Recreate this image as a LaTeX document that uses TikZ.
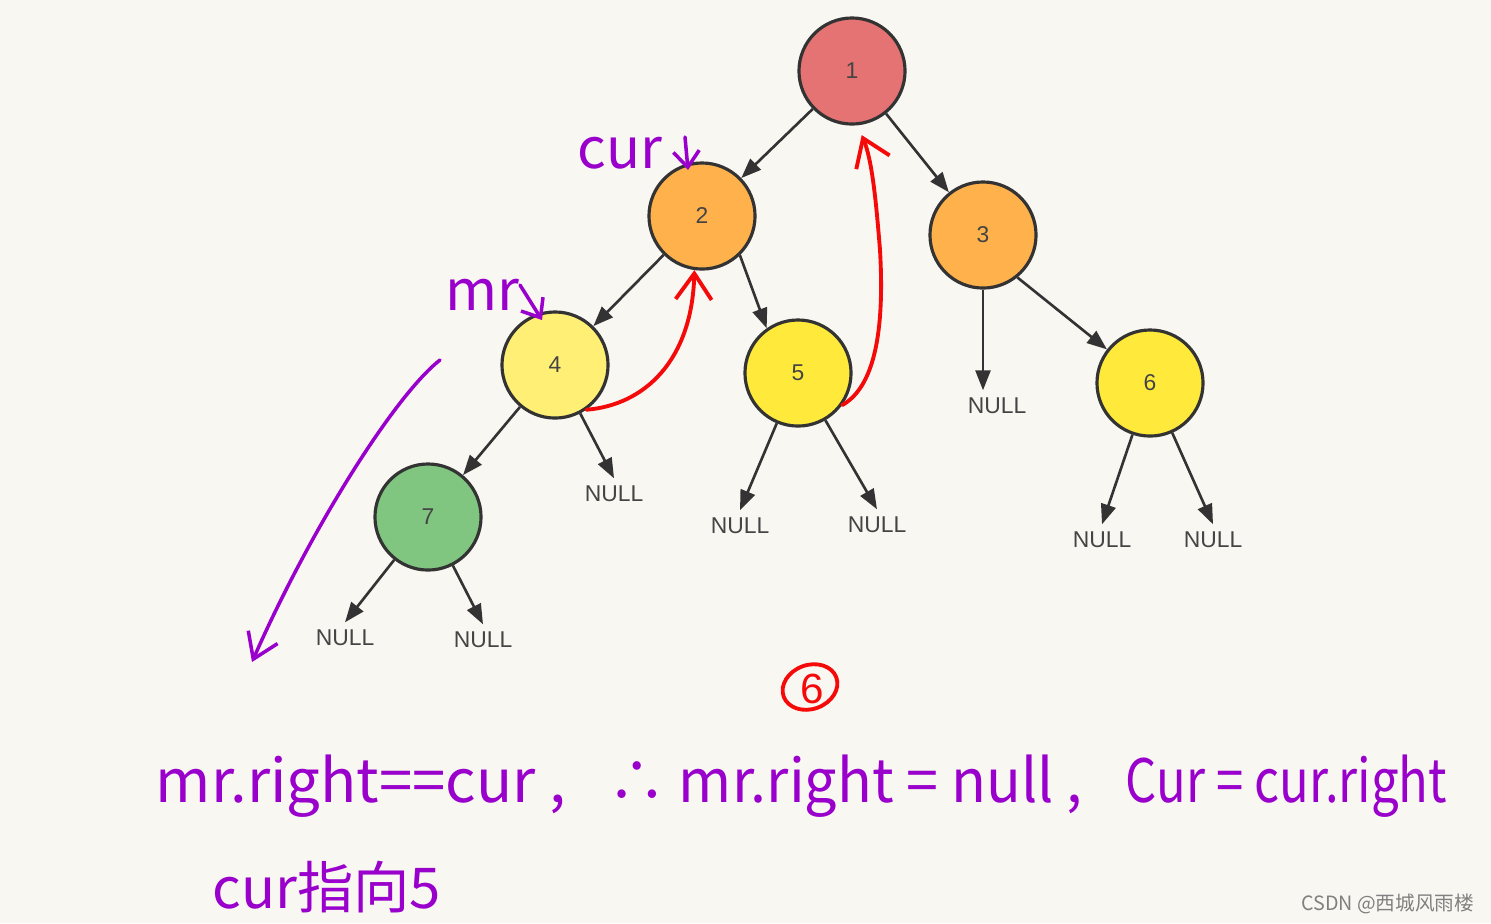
\documentclass[tikz,border=0pt]{standalone}
\usepackage{fontspec}
\setmainfont{Liberation Sans}
\newfontfamily\cjk{Noto Sans CJK SC}
\usetikzlibrary{positioning,arrows.meta,shapes.geometric}

\definecolor{paper}{RGB}{249,247,242}
\definecolor{edgegray}{RGB}{51,51,51}
\definecolor{numgray}{RGB}{68,68,68}
\definecolor{rootred}{RGB}{229,115,115}
\definecolor{midorange}{RGB}{255,178,76}
\definecolor{paleyellow}{RGB}{255,240,117}
\definecolor{leafyellow}{RGB}{255,234,59}
\definecolor{leafgreen}{RGB}{128,198,128}
\definecolor{inkred}{RGB}{245,10,10}
\definecolor{inkpurple}{RGB}{153,0,204}

\begin{document}
\begin{tikzpicture}[
  x=0.01cm, y=-0.01cm,
  font=\fontsize{6.5}{8}\selectfont,
  tnode/.style={circle, draw=edgegray, line width=0.9pt, minimum size=1.06cm, inner sep=0pt, text=numgray},
  nul/.style={text=numgray, inner sep=2pt},
  arr/.style={-{Triangle[length=2mm,width=1.5mm]}, line width=0.75pt, draw=edgegray},
  redpen/.style={-{Straight Barb[length=2.6mm,width=3.6mm]}, line width=1.1pt, draw=inkred, line cap=round},
  purplepen/.style={-{Straight Barb[length=2.4mm,width=3.2mm]}, line width=1pt, draw=inkpurple, line cap=round},
  hand/.style={text=inkpurple, inner sep=0pt, font=\cjk\fontsize{17}{20}\selectfont}
]
% paper
\useasboundingbox (0,0) rectangle (1491,923);
\fill[paper] (0,0) rectangle (1491,923);

% tree
\node[tnode, fill=rootred] (n1) at (852,71) {1};
\node[tnode, fill=midorange] (n2) at (702,216) {2};
\node[tnode, fill=midorange] (n3) at (983,235) {3};
\node[tnode, fill=paleyellow] (n4) at (555,365) {4};
\node[tnode, fill=leafyellow] (n5) at (798,373) {5};
\node[tnode, fill=leafyellow] (n6) at (1150,383) {6};
\node[tnode, fill=leafgreen] (n7) at (428,517) {7};

\node[nul] (nl4) at (614,494) {NULL};
\node[nul] (nl3) at (997,406) {NULL};
\node[nul] (nl5a) at (740,526) {NULL};
\node[nul] (nl5b) at (877,525) {NULL};
\node[nul] (nl6a) at (1102,540) {NULL};
\node[nul] (nl6b) at (1213,540) {NULL};
\node[nul] (nl7a) at (345,638) {NULL};
\node[nul] (nl7b) at (483,640) {NULL};

\draw[arr] (n1) -- (n2);
\draw[arr] (n1) -- (n3);
\draw[arr] (n2) -- (n4);
\draw[arr] (n2.-46) -- (n5.125);
\draw[arr] (n3.-51) -- (n6.142);
\draw[arr] (n4) -- (n7);
\draw[arr] (n4) -- (nl4.north);
\draw[arr] (n3.south) -- (n3.south |- nl3.north);
\draw[arr] (n5) -- (nl5a.north);
\draw[arr] (n5) -- (nl5b.north);
\draw[arr] (n6) -- (nl6a.north);
\draw[arr] (n6) -- (nl6b.north);
\draw[arr] (n7) -- (nl7a.north);
\draw[arr] (n7) -- (nl7b.north);

% red threads
\draw[redpen] (n4.-55) .. controls (645,405) and (692,360) .. (n2.-98);
\draw[redpen, shorten >=3] (n5.-36) .. controls (878,385) and (884,320) .. (880,250)
  .. controls (876,200) and (872,160) .. (n1.-84);

% purple notes
\node[hand, font=\cjk\fontsize{16}{18}\selectfont] (curlab) at (620,153) {cur};
\node[hand, font=\cjk\fontsize{16}{18}\selectfont] (mrlab) at (482,295) {mr};
\coordinate (curtop) at (685,137);
\coordinate (curtip) at (688,170);
\coordinate (mrtop) at (520,285);
\coordinate (mrtip) at (542,320);
\draw[purplepen, -{Straight Barb[length=1.6mm,width=2.6mm]}] (curtop) -- (curtip);
\draw[purplepen, -{Straight Barb[length=1.6mm,width=2.6mm]}] (mrtop) -- (mrtip);
\coordinate (sweepa) at (440,360);
\coordinate (sweepb) at (252,662);
\draw[purplepen] (sweepa) .. controls (395,395) and (310,530) .. (sweepb);

% step number
\node[ellipse, draw=inkred, line width=1.1pt, minimum width=0.56cm, minimum height=0.44cm, rotate=20, inner sep=0pt] (stepmark) at (810,687) {};
\node[text=inkred, font=\fontsize{12}{14}\selectfont] (steplab) at (812,689) {6};

% bottom text
\node[hand, anchor=base west] (eq1) at (155,802) {mr.right==cur ,};
\node[hand, anchor=base west] (eq2) at (608,802) {\scalebox{0.96}[1]{∴ mr.right = null ,}};
\node[hand, anchor=base west] (eq3) at (1125,802) {\scalebox{0.82}[1]{Cur = cur.right}};
\node[hand, anchor=base west, font=\cjk\fontsize{16}{18}\selectfont] (eq4) at (212,908) {cur指向5};

% watermark
\node[anchor=east, inner sep=0pt, text=gray, font=\cjk\fontsize{5.6}{7}\selectfont] (mark1) at (1475,904) {CSDN @西城风雨楼};
\end{tikzpicture}
\end{document}
